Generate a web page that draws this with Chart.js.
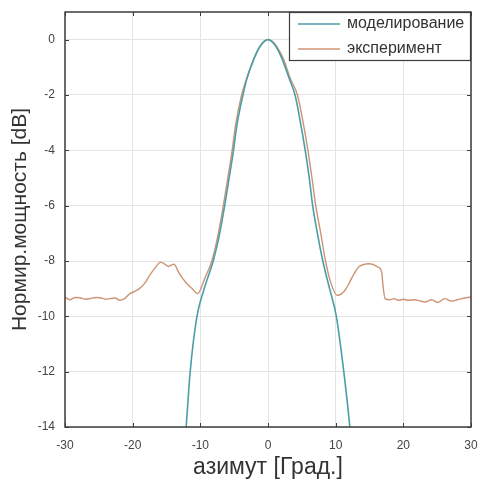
<!DOCTYPE html>
<html lang="ru">
<head>
<meta charset="UTF-8">
<title>Нормир. мощность</title>
<script src="https://cdn.jsdelivr.net/npm/chart.js"></script>
<style>
  body { margin: 0; background: #fff; }
  #wrap { width: 480px; height: 479px; }
</style>
</head>
<body>
<div id="wrap">
  <canvas id="myChart" width="480" height="479"></canvas>
</div>
<script>
// моделирование (азимут, дБ)
const simAz = [-12.6, -12.1, -11.5, -10.5, -9.5, -8.1, -7.25, -6.4, -5.8, -5.1, -4.6, -3.7, -3.1, -2.0, -1.1, 0,
               1.1, 2.0, 3.2, 4.0, 4.8, 5.5, 6.1, 6.6, 7.3, 8.1, 9.1, 10.1, 11.2, 12.1, 12.6];
const simDb = [-15.3, -14, -12, -10, -9.06, -8, -7.14, -6, -5.09, -4, -3.1, -2, -1.4, -0.65, -0.22, 0,
               -0.22, -0.65, -1.45, -2, -3, -4, -5, -6, -7, -8, -9, -10, -12, -14, -15.3];

// эксперимент (азимут, дБ)
const expAz = [-30, -29.3, -28.5, -27.8, -27, -26.3, -25.5, -24.8, -24, -23.4, -22.6, -21.9, -21.2,
               -20.4, -19.7, -19.0, -18.2, -17.5, -16.6, -15.9, -15.2, -14.7, -14.4, -13.9, -13.1,
               -12.2, -11.2, -10.4, -9.3, -8.3, -7.45, -6.6, -6.0, -5.3, -4.8, -3.9, -3.3, -2.2, -1.3, -0.5, 0,
               0.6, 1.3, 2.2, 3.3, 4.35, 5.2, 5.9, 6.5, 7.05, 7.8, 8.5, 9.3, 10.2, 10.8, 11.4, 11.9, 12.45, 13.4,
               14.2, 14.9, 15.5, 16.1, 16.8, 17.0, 17.3, 18.0, 18.6, 19.3, 20.0, 20.7, 21.7, 22.4,
               23.2, 24.2, 25.1, 26.1, 27.1, 28.0, 29.3, 30];
const expDb = [-9.3, -9.4, -9.32, -9.33, -9.38, -9.36, -9.32, -9.33, -9.38, -9.36, -9.34, -9.42, -9.36,
               -9.18, -9.1, -9.0, -8.8, -8.52, -8.22, -8.04, -8.12, -8.2, -8.16, -8.12, -8.46,
               -8.76, -9.0, -9.18, -8.6, -8.0, -7.14, -6, -5.09, -4, -3.1, -2, -1.5, -0.75, -0.28, -0.04, 0,
               -0.05, -0.25, -0.65, -1.4, -2, -3, -4, -5, -6, -7, -8, -8.8, -9.24, -9.2, -9.05, -8.85, -8.58, -8.22,
               -8.12, -8.1, -8.12, -8.2, -8.4, -8.9, -9.36, -9.4, -9.36, -9.42, -9.38, -9.42, -9.4, -9.44,
               -9.48, -9.4, -9.5, -9.36, -9.45, -9.4, -9.33, -9.3];

const xTicks = [-30, -20, -10, 0, 10, 20, 30];
const yTicks = [-14, -12, -10, -8, -6, -4, -2, 0];

const seriesNames = ['моделирование', 'эксперимент'];
const seriesColors = ['#4a9ea8', '#cc9474'];

function pts(xs, ys) {
  return xs.map((x, i) => ({ x: x, y: ys[i] }));
}

function noPad(axis) {
  axis.paddingLeft = 0; axis.paddingRight = 0;
  axis.paddingTop = 0; axis.paddingBottom = 0;
}

// рамка, внутренние засечки и легенда как в MATLAB
const boxPlugin = {
  id: 'boxPlugin',
  afterDraw(chart) {
    const c = chart.ctx;
    const a = chart.chartArea;
    const xs = chart.scales.x, ys = chart.scales.y;
    c.save();
    c.strokeStyle = '#3c3c3c';
    c.lineWidth = 1;
    c.beginPath();
    xTicks.forEach(v => {
      const px = Math.round(xs.getPixelForValue(v)) + 0.5;
      c.moveTo(px, a.bottom); c.lineTo(px, a.bottom - 4);
      c.moveTo(px, a.top); c.lineTo(px, a.top + 4);
    });
    yTicks.forEach(v => {
      const py = Math.round(ys.getPixelForValue(v)) + 0.5;
      c.moveTo(a.left, py); c.lineTo(a.left + 4, py);
      c.moveTo(a.right, py); c.lineTo(a.right - 4, py);
    });
    c.stroke();
    c.lineWidth = 1.5;
    c.strokeRect(a.left, a.top, a.right - a.left, a.bottom - a.top);

    // легенда
    const lx = 289, ly = a.top, lw = a.right - 289, lh = 49;
    c.fillStyle = '#fff';
    c.fillRect(lx, ly, lw, lh);
    c.lineWidth = 1.2;
    c.strokeStyle = '#3c3c3c';
    c.strokeRect(lx + 0.5, ly + 0.5, lw - 1, lh - 1);
    c.font = '16px "Liberation Sans", Arial, sans-serif';
    c.textBaseline = 'middle';
    c.textAlign = 'left';
    chart.data.datasets.forEach((ds, i) => {
      const ry = ly + 12 + i * 25;
      c.strokeStyle = ds.borderColor;
      c.lineWidth = 1.5;
      c.beginPath();
      c.moveTo(298, ry); c.lineTo(340, ry);
      c.stroke();
      c.fillStyle = '#333';
      c.fillText(ds.label, 347, ry);
    });
    c.restore();
  }
};

const ctx = document.getElementById('myChart');
new Chart(ctx, {
  type: 'line',
  data: {
    datasets: [
      {
        label: seriesNames[0],
        data: pts(simAz, simDb),
        borderColor: seriesColors[0],
        borderWidth: 1.6,
        pointRadius: 0,
        cubicInterpolationMode: 'monotone'
      },
      {
        label: seriesNames[1],
        data: pts(expAz, expDb),
        borderColor: seriesColors[1],
        borderWidth: 1.4,
        pointRadius: 0,
        cubicInterpolationMode: 'monotone'
      }
    ]
  },
  options: {
    responsive: false,
    animation: false,
    layout: { padding: { left: 0, top: 12, right: 9, bottom: 0 } },
    plugins: {
      legend: { display: false },
      tooltip: { enabled: false }
    },
    scales: {
      x: {
        type: 'linear',
        min: -30,
        max: 30,
        afterBuildTicks: axis => { axis.ticks = xTicks.map(v => ({ value: v })); },
        afterFit: axis => { axis.height = 52; noPad(axis); },
        grid: { color: '#e4e4e4', drawTicks: false },
        border: { display: false },
        ticks: {
          padding: 11,
          color: '#444',
          font: { family: '"Liberation Sans", Arial, sans-serif', size: 12 }
        },
        title: {
          display: true,
          text: 'азимут [Град.]',
          color: '#333',
          padding: { top: 0, bottom: 0 },
          font: { family: '"Liberation Sans", Arial, sans-serif', size: 23, lineHeight: 1 }
        }
      },
      y: {
        type: 'linear',
        min: -14,
        max: 1,
        afterBuildTicks: axis => { axis.ticks = yTicks.map(v => ({ value: v })); },
        afterFit: axis => { axis.width = 65; noPad(axis); },
        grid: { color: '#e4e4e4', drawTicks: false },
        border: { display: false },
        ticks: {
          padding: 10,
          color: '#444',
          font: { family: '"Liberation Sans", Arial, sans-serif', size: 12 }
        },
        title: {
          display: true,
          text: 'Нормир.мощность [dB]',
          color: '#333',
          padding: { top: 10, bottom: 0 },
          font: { family: '"Liberation Sans", Arial, sans-serif', size: 21, lineHeight: 1 }
        }
      }
    }
  },
  plugins: [boxPlugin]
});
</script>
</body>
</html>
